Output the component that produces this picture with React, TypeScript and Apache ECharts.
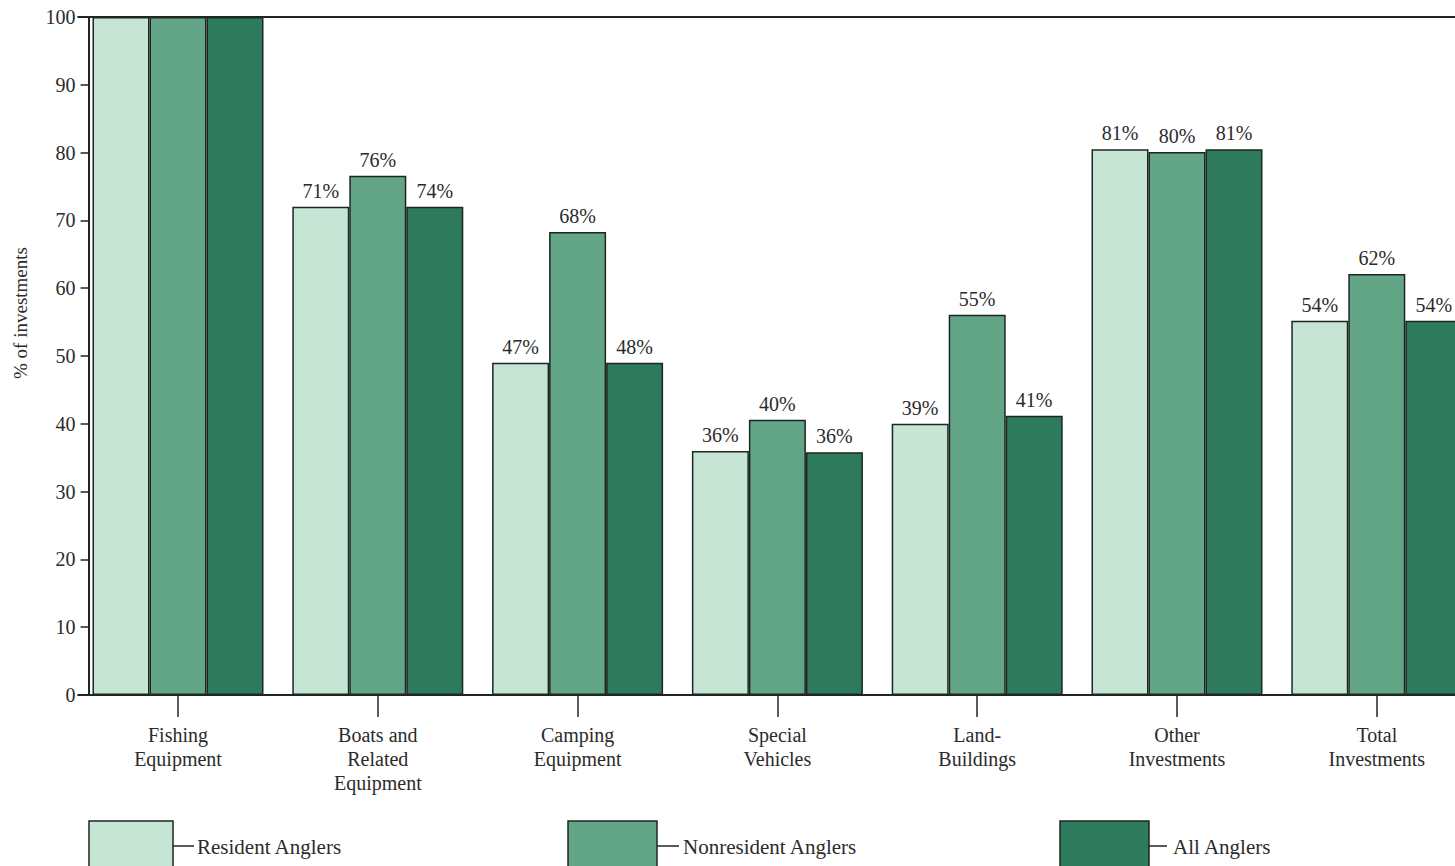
import React, { useEffect, useRef } from "react";
import * as echarts from "echarts";

const categories = [
  "Fishing\nEquipment",
  "Boats and\nRelated\nEquipment",
  "Camping\nEquipment",
  "Special\nVehicles",
  "Land-\nBuildings",
  "Other\nInvestments",
  "Total\nInvestments",
];

const seriesNames = ["Resident Anglers", "Nonresident Anglers", "All Anglers"];

// bar heights as drawn in the picture
const residentValues = [100, 72, 49, 36, 40, 80.5, 55.2];
const nonresidentValues = [100, 76.6, 68.3, 40.6, 56.1, 80.1, 62.1];
const allValues = [100, 72, 49, 35.8, 41.2, 80.5, 55.2];

// printed labels above bars
const residentLabels = ["", "71%", "47%", "36%", "39%", "81%", "54%"];
const nonresidentLabels = ["", "76%", "68%", "40%", "55%", "80%", "62%"];
const allLabels = ["", "74%", "48%", "36%", "41%", "81%", "54%"];

const colors = ["#c6e5d4", "#62a587", "#2e7a5d"];

const FONT = "'Liberation Serif', 'DejaVu Serif', serif";
const TEXT = "#2b2b2b";
const LINE = "#1e2622";

export default function App() {
  const ref = useRef<HTMLDivElement>(null);

  useEffect(() => {
    if (!ref.current) return;
    const chart = echarts.init(ref.current, undefined, { renderer: "svg" });
    const values = [residentValues, nonresidentValues, allValues];
    const labels = [residentLabels, nonresidentLabels, allLabels];

    const legendBoxes = [
      { x: 89, w: 84, lineEnd: 194, tx: 197 },
      { x: 568, w: 89, lineEnd: 679, tx: 683 },
      { x: 1060, w: 89, lineEnd: 1167, tx: 1173 },
    ];

    const graphic: any[] = [
      {
        type: "text",
        x: 20,
        y: 313,
        rotation: Math.PI / 2,
        style: {
          text: "% of investments",
          font: `19px ${FONT}`,
          fill: TEXT,
          align: "center",
          verticalAlign: "middle",
        },
      },
    ];
    legendBoxes.forEach((b, i) => {
      graphic.push({
        type: "rect",
        shape: { x: b.x, y: 821, width: b.w, height: 70 },
        style: { fill: colors[i], stroke: LINE, lineWidth: 1.5 },
      });
      graphic.push({
        type: "line",
        shape: { x1: b.x + b.w, y1: 846, x2: b.lineEnd, y2: 846 },
        style: { stroke: LINE, lineWidth: 1.5 },
      });
      graphic.push({
        type: "text",
        x: b.tx,
        y: 847,
        style: {
          text: seriesNames[i],
          font: `21px ${FONT}`,
          fill: TEXT,
          align: "left",
          verticalAlign: "middle",
        },
      });
    });

    chart.setOption({
      animation: false,
      backgroundColor: "#ffffff",
      grid: { left: 78.1, width: 1398.6, top: 17, height: 678, containLabel: false },
      xAxis: [
        {
          type: "category",
          data: categories,
          position: "bottom",
          axisLine: { show: true, lineStyle: { color: LINE, width: 2 } },
          axisTick: { show: true, alignWithLabel: true, length: 22, lineStyle: { color: LINE, width: 1.5 } },
          axisLabel: {
            interval: 0,
            margin: 28,
            fontSize: 20,
            lineHeight: 24,
            fontFamily: FONT,
            color: TEXT,
          },
          splitLine: { show: false },
        },
        {
          type: "category",
          data: categories,
          position: "top",
          axisLine: { show: true, lineStyle: { color: LINE, width: 2 } },
          axisTick: { show: false },
          axisLabel: { show: false },
          splitLine: { show: false },
        },
      ],
      yAxis: {
        type: "value",
        min: 0,
        max: 100,
        interval: 10,
        offset: -10.5,
        axisLine: { show: true, lineStyle: { color: LINE, width: 2 } },
        axisTick: { show: true, length: 8, lineStyle: { color: LINE, width: 1.5 } },
        axisLabel: { margin: 13, fontSize: 20, fontFamily: FONT, color: TEXT },
        splitLine: { show: false },
      },
      series: seriesNames.map((name, si) => ({
        name,
        type: "bar",
        xAxisIndex: 0,
        data: values[si],
        barWidth: 57,
        barGap: "0%",
        itemStyle: { color: colors[si], borderColor: LINE, borderWidth: 1.5 },
        label: {
          show: true,
          position: "top",
          distance: 6,
          fontSize: 20,
          fontFamily: FONT,
          color: TEXT,
          formatter: (p: any) => labels[si][p.dataIndex],
        },
      })),
      graphic,
    });

    return () => chart.dispose();
  }, []);

  return (
    <div
      style={{
        position: "absolute",
        left: 0,
        top: 0,
        width: 1455,
        height: 866,
        overflow: "hidden",
      }}
    >
      <div ref={ref} style={{ width: 1490, height: 866 }} />
    </div>
  );
}
